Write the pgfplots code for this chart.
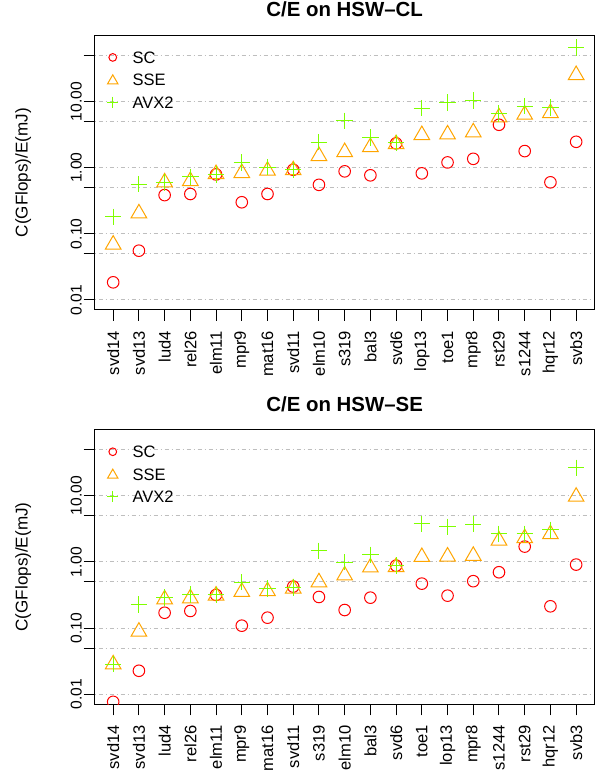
\documentclass[border=0pt]{standalone}
\usepackage{fontspec}
\setmainfont{Liberation Sans}
\usepackage{pgfplots}
\usepackage{pgfplotstable}
\pgfplotsset{compat=1.18}

\definecolor{scred}{HTML}{FF0000}
\definecolor{sseorange}{HTML}{FFA500}
\definecolor{avxgreen}{HTML}{7FFF00}
\definecolor{gridgray}{HTML}{BEBEBE}

\newcommand{\labfont}{\fontsize{12.4}{14}\selectfont}
\newcommand{\ytfont}{\fontsize{11.7}{14}\selectfont}
\newcommand{\titfont}{\fontsize{15.3}{18}\selectfont\bfseries}

% HSW-CL
\pgfplotstableread{
x sc sse avx
0 0.0185 0.0688 0.181
1 0.0556 0.204 0.565
2 0.385 0.60 0.60
3 0.40 0.628 0.73
4 0.79 0.80 0.79
5 0.30 0.83 1.20
6 0.40 0.90 1.02
7 0.93 0.914 0.93
8 0.55 1.50 2.44
9 0.88 1.72 5.12
10 0.766 2.05 2.87
11 2.33 2.27 2.38
12 0.82 3.11 7.94
13 1.20 3.18 9.68
14 1.36 3.42 10.4
15 4.45 5.76 6.6
16 1.78 6.31 8.53
17 0.60 6.69 8.15
18 2.46 25.1 65.6
}\datacl

% HSW-SE
\pgfplotstableread{
x sc sse avx
0 0.0077 0.0284 0.0287
1 0.0227 0.0886 0.227
2 0.171 0.273 0.289
3 0.182 0.283 0.321
4 0.318 0.311 0.318
5 0.109 0.353 0.494
6 0.144 0.362 0.396
7 0.425 0.397 0.41
8 0.296 0.494 1.47
9 0.188 0.626 0.99
10 0.289 0.826 1.28
11 0.88 0.84 0.88
12 0.471 1.19 3.77
13 0.31 1.21 3.40
14 0.513 1.24 3.73
15 0.70 2.11 2.66
16 1.71 2.29 2.66
17 0.214 2.63 3.06
18 0.914 9.69 26.5
}\datase

\begin{document}
\begin{tikzpicture}
\useasboundingbox (0,0) rectangle (448.5pt,581.25pt);

\begin{axis}[at={(71pt,348.75pt)}, anchor=south west,
    scale only axis, width=375pt, height=206pt,
    xmin=-0.72, xmax=18.72,
    ymode=log, ymin=0.00706, ymax=100,
    xtick={0,...,18},
    ytick={0.01,0.05,0.1,0.5,1,5,10,50},
    yticklabels={0.01,{},0.10,{},1.00,{},10.00,{}},
    tick pos=left, tick align=outside, major tick length=8.25pt,
    major tick style={black, line width=0.75pt},
    axis line style={line width=0.75pt},
    ymajorgrids,
    major grid style={gridgray, line width=0.75pt, dash pattern=on 0.75pt off 2.25pt on 3pt off 2.25pt},
    xticklabel style={rotate=90, anchor=east, inner sep=0pt, font=\labfont},
    yticklabel style={rotate=90, anchor=south, inner sep=0pt, font=\ytfont},
    xticklabel shift=7.3pt, yticklabel shift=1.3pt,
    clip marker paths=true,
    ylabel={C(GFlops)/E(mJ)},
    ylabel style={at={(axis description cs:-0.143,0.5)}, anchor=center, font=\fontsize{12.8}{15}\selectfont},
    title={C/E on HSW\textendash CL},
    title style={at={(axis description cs:0.5,1.064)}, anchor=center, yshift=0pt, font=\titfont},
    legend cell align=left,
    legend style={at={(axis description cs:0,1)}, anchor=north west, xshift=7pt, yshift=-11pt,
      draw=none, fill=none, inner sep=0pt, row sep=6pt, column sep=0pt, font=\labfont,
      nodes={inner sep=0pt, text height=9.5pt, text depth=0.5pt}},
    xticklabels={svd14,svd13,lud4,rel26,elm11,mpr9,mat16,svd11,elm10,s319,bal3,svd6,lop13,toe1,mpr8,rst29,s1244,hqr12,svb3}]
\addplot[only marks, mark=o, scred, mark size=4.35pt, line width=0.75pt,
  legend image code/.code={\draw[only marks, scred, line width=0.75pt, mark=o, mark size=2.9pt] plot coordinates {(0pt,0pt)}; \path (-6pt,-5pt) (14.5pt,5pt);}]
  table[x=x, y=sc] {\datacl};
\addlegendentry{SC}
\addplot[only marks, mark=triangle, sseorange, mark size=6.75pt, line width=0.75pt,
  legend image code/.code={\draw[only marks, sseorange, line width=0.75pt, mark=triangle, mark size=4.5pt] plot coordinates {(0pt,-0.8pt)}; \path (-6pt,-5pt) (14.5pt,5pt);}]
  table[x=x, y=sse] {\datacl};
\addlegendentry{SSE}
\addplot[only marks, mark=+, avxgreen, mark size=6.15pt, line width=0.75pt,
  legend image code/.code={\draw[only marks, avxgreen, line width=0.75pt, mark=+, mark size=4.1pt] plot coordinates {(0pt,0pt)}; \path (-6pt,-5pt) (14.5pt,5pt);}]
  table[x=x, y=avx] {\datacl};
\addlegendentry{AVX2}
\end{axis}

\begin{axis}[at={(71pt,53pt)}, anchor=south west,
    scale only axis, width=375pt, height=206pt,
    xmin=-0.72, xmax=18.72,
    ymode=log, ymin=0.00706, ymax=100,
    xtick={0,...,18},
    ytick={0.01,0.05,0.1,0.5,1,5,10,50},
    yticklabels={0.01,{},0.10,{},1.00,{},10.00,{}},
    tick pos=left, tick align=outside, major tick length=8.25pt,
    major tick style={black, line width=0.75pt},
    axis line style={line width=0.75pt},
    ymajorgrids,
    major grid style={gridgray, line width=0.75pt, dash pattern=on 0.75pt off 2.25pt on 3pt off 2.25pt},
    xticklabel style={rotate=90, anchor=east, inner sep=0pt, font=\labfont},
    yticklabel style={rotate=90, anchor=south, inner sep=0pt, font=\ytfont},
    xticklabel shift=7.3pt, yticklabel shift=1.3pt,
    clip marker paths=true,
    ylabel={C(GFlops)/E(mJ)},
    ylabel style={at={(axis description cs:-0.143,0.5)}, anchor=center, font=\fontsize{12.8}{15}\selectfont},
    title={C/E on HSW\textendash SE},
    title style={at={(axis description cs:0.5,1.064)}, anchor=center, yshift=0pt, font=\titfont},
    legend cell align=left,
    legend style={at={(axis description cs:0,1)}, anchor=north west, xshift=7pt, yshift=-11pt,
      draw=none, fill=none, inner sep=0pt, row sep=6pt, column sep=0pt, font=\labfont,
      nodes={inner sep=0pt, text height=9.5pt, text depth=0.5pt}},
    xticklabels={svd14,svd13,lud4,rel26,elm11,mpr9,mat16,svd11,s319,elm10,bal3,svd6,toe1,lop13,mpr8,s1244,rst29,hqr12,svb3}]
\addplot[only marks, mark=o, scred, mark size=4.35pt, line width=0.75pt,
  legend image code/.code={\draw[only marks, scred, line width=0.75pt, mark=o, mark size=2.9pt] plot coordinates {(0pt,0pt)}; \path (-6pt,-5pt) (14.5pt,5pt);}]
  table[x=x, y=sc] {\datase};
\addlegendentry{SC}
\addplot[only marks, mark=triangle, sseorange, mark size=6.75pt, line width=0.75pt,
  legend image code/.code={\draw[only marks, sseorange, line width=0.75pt, mark=triangle, mark size=4.5pt] plot coordinates {(0pt,-0.8pt)}; \path (-6pt,-5pt) (14.5pt,5pt);}]
  table[x=x, y=sse] {\datase};
\addlegendentry{SSE}
\addplot[only marks, mark=+, avxgreen, mark size=6.15pt, line width=0.75pt,
  legend image code/.code={\draw[only marks, avxgreen, line width=0.75pt, mark=+, mark size=4.1pt] plot coordinates {(0pt,0pt)}; \path (-6pt,-5pt) (14.5pt,5pt);}]
  table[x=x, y=avx] {\datase};
\addlegendentry{AVX2}
\end{axis}
\end{tikzpicture}
\end{document}
